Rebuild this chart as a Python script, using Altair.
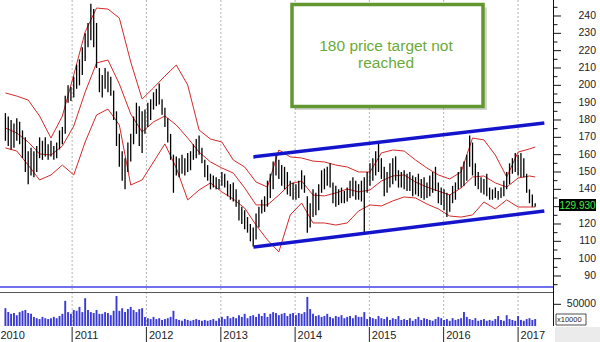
import altair as alt
import pandas as pd

# ---------------- data ----------------
bar_high = [184, 182, 180, 178, 181, 179, 174, 170, 162, 164,
            162, 165, 170, 168, 170, 166, 168, 165, 167, 174,
            176, 194, 200, 199, 205, 212, 215, 222, 230, 236,
            247, 244, 236, 210, 206, 210, 208, 205, 197, 185,
            172, 162, 158, 167, 172, 182, 190, 188, 185, 186,
            190, 192, 196, 198, 201, 192, 187, 181, 172, 160,
            159, 158, 160, 158, 161, 162, 166, 169, 171, 164,
            157, 154, 149, 148, 147, 146, 150, 149, 145, 143,
            144, 140, 134, 130, 128, 124, 120, 118, 126, 130,
            134, 136, 145, 149, 156, 161, 157, 154, 153, 150,
            145, 144, 143, 145, 151, 148, 136, 132, 140, 138,
            143, 151, 152, 153, 155, 144, 142, 140, 141, 139,
            141, 145, 147, 145, 143, 145, 147, 150, 155, 158,
            162, 167, 158, 153, 150, 155, 158, 159, 151, 150,
            151, 149, 150, 148, 147, 149, 146, 147, 144, 148,
            150, 153, 144, 141, 140, 138, 137, 142, 144, 150,
            153, 156, 160, 171, 167, 155, 150, 147, 146, 149,
            141, 140, 141, 139, 141, 145, 150, 155, 158, 161,
            160, 161, 158, 149, 140, 137, 132]
bar_low = [168, 165, 163, 164, 168, 166, 158, 150, 143, 148,
           147, 150, 158, 157, 159, 157, 159, 157, 158, 163,
           166, 172, 190, 191, 193, 198, 200, 206, 214, 222,
           226, 222, 210, 196, 193, 198, 196, 194, 180, 165,
           153, 145, 140, 150, 156, 166, 172, 165, 161, 172,
           176, 180, 186, 188, 189, 183, 176, 167, 157, 138,
           148, 147, 149, 148, 150, 151, 157, 158, 160, 155,
           147, 145, 140, 141, 140, 140, 142, 141, 136, 134,
           133, 130, 122, 120, 117, 115, 110, 107, 111, 118,
           126, 127, 130, 135, 140, 148, 146, 142, 140, 137,
           136, 134, 134, 135, 140, 138, 115, 118, 124, 125,
           128, 138, 140, 142, 141, 132, 130, 131, 132, 132,
           133, 135, 136, 134, 134, 133, 115, 138, 142, 145,
           148, 150, 146, 136, 138, 141, 143, 145, 141, 141,
           140, 139, 139, 136, 137, 136, 135, 134, 135, 136,
           138, 139, 132, 131, 128, 124, 127, 132, 134, 140,
           141, 142, 145, 153, 148, 142, 140, 138, 137, 136,
           134, 134, 135, 134, 135, 136, 140, 143, 149, 150,
           148, 147, 147, 138, 132, 130, 129.93]
volume = [41000, 32000, 28000, 30000, 25000, 32000, 35000, 37000, 30000, 28000,
          21000, 18000, 16000, 21000, 18000, 16000, 18000, 21000, 18000, 23000,
          28000, 58000, 32000, 28000, 37000, 35000, 44000, 32000, 64000, 37000,
          32000, 30000, 37000, 28000, 28000, 32000, 30000, 25000, 35000, 69000,
          35000, 41000, 32000, 39000, 44000, 37000, 32000, 39000, 41000, 21000,
          18000, 16000, 21000, 16000, 18000, 14000, 16000, 18000, 21000, 35000,
          16000, 14000, 12000, 16000, 14000, 12000, 14000, 16000, 14000, 12000,
          14000, 12000, 14000, 16000, 12000, 18000, 21000, 16000, 23000, 18000,
          21000, 18000, 25000, 21000, 28000, 18000, 23000, 25000, 21000, 28000,
          23000, 30000, 21000, 28000, 32000, 30000, 25000, 28000, 30000, 23000,
          28000, 30000, 25000, 30000, 28000, 32000, 67000, 39000, 28000, 23000,
          25000, 21000, 23000, 28000, 21000, 18000, 23000, 21000, 25000, 18000,
          21000, 23000, 18000, 25000, 21000, 21000, 32000, 16000, 21000, 18000,
          16000, 23000, 18000, 16000, 21000, 14000, 18000, 16000, 23000, 14000,
          16000, 14000, 18000, 12000, 16000, 21000, 14000, 18000, 16000, 14000,
          12000, 16000, 21000, 18000, 14000, 16000, 12000, 18000, 14000, 16000,
          18000, 32000, 21000, 16000, 14000, 18000, 12000, 14000, 16000, 12000,
          14000, 12000, 16000, 23000, 14000, 12000, 25000, 16000, 14000, 12000,
          23000, 14000, 12000, 16000, 18000, 14000, 16000]

band_upper = [195.6, 193.8, 191.5, 182.3, 169.6, 182.3, 206.0, 230.8, 244.6, 244.0,
              238.8, 213.5, 192.1, 198.5, 205.4, 211.7, 200.2, 174.2, 169.0, 167.3,
              156.9, 152.9, 144.2, 141.3, 162.7, 158.7, 158.1, 156.3, 155.8, 154.0,
              152.9, 150.0, 150.0, 161.0, 162.7, 162.1, 156.9, 152.3, 148.3, 146.0,
              150.0, 169.6, 168.5, 159.8, 147.1, 161.5, 163.3, 164.4]
band_mid = [175.4, 172.5, 167.3, 160.4, 159.8, 165.0, 176.5, 196.1, 212.9, 214.6,
            200.8, 183.5, 173.1, 178.9, 182.3, 177.1, 169.6, 161.5, 155.8, 152.3,
            149.4, 140.8, 131.0, 131.0, 136.7, 143.1, 144.8, 136.7, 136.2, 137.9,
            140.2, 138.5, 139.6, 144.8, 147.7, 148.3, 144.2, 141.3, 139.0, 136.7,
            140.8, 147.1, 147.7, 143.7, 141.3, 146.5, 147.7, 147.1]
band_lower = [163.9, 162.1, 154.0, 145.4, 148.3, 154.0, 148.3, 167.3, 182.9, 186.3,
              177.1, 142.5, 145.4, 155.8, 166.2, 152.3, 133.9, 139.6, 143.7, 138.5,
              134.4, 129.2, 119.4, 110.8, 103.9, 125.2, 132.1, 120.6, 120.6, 119.4,
              120.6, 127.5, 131.0, 130.4, 133.3, 135.6, 135.0, 131.5, 128.7, 124.6,
              124.0, 125.2, 132.7, 128.7, 133.9, 129.8, 129.8, 129.8]

channel_dates = ["2013-06-10T00:00:00", "2017-05-10T00:00:00"]
channel_upper = [158.7, 178.3]
channel_lower = [106.7, 127.5]

price_ticks = list(range(90, 250, 10))
price_labels = [t for t in price_ticks if t != 130]   # 130 is hidden by the last-price box
price_minor = list(range(85, 250, 10))
years = [2010, 2011, 2012, 2013, 2014, 2015, 2016, 2017]
last_price = "129.930"
note_lines = ["180 price target not", "reached"]

# ---------------- frames ----------------
dates = pd.date_range("2010-02-07", periods=len(bar_high), freq="14D")
bars = pd.DataFrame({"date": dates, "high": bar_high, "low": bar_low, "vol": volume})

band_idx = list(range(0, len(bar_high), 4)) + [len(bar_high) - 1]
band_dates = dates[band_idx]
bands = pd.concat([
    pd.DataFrame({"date": band_dates, "v": band_upper, "band": "upper"}),
    pd.DataFrame({"date": band_dates, "v": band_mid, "band": "mid"}),
    pd.DataFrame({"date": band_dates, "v": band_lower, "band": "lower"}),
])
channels = pd.concat([
    pd.DataFrame({"date": pd.to_datetime(channel_dates), "v": channel_upper, "line": "up"}),
    pd.DataFrame({"date": pd.to_datetime(channel_dates), "v": channel_lower, "line": "low"}),
])
year_df = pd.DataFrame({"date": pd.to_datetime([f"{y}-01-01" for y in years]),
                        "label": [str(y) for y in years]})
grid_df = year_df[year_df["label"] != "2010"]
ticks_df = pd.DataFrame({"p": price_ticks})
labels_df = pd.DataFrame({"p": price_labels, "label": [str(t) for t in price_labels]})
minor_df = pd.DataFrame({"p": price_minor})
one = pd.DataFrame({"a": [0]})
note_df = pd.DataFrame({"t": note_lines, "yy": [51, 68]})

FONT = "Liberation Sans"
xs = alt.Scale(domain=[pd.Timestamp("2010-02-05").isoformat(),
                       pd.Timestamp("2017-05-28").isoformat()], nice=False)
ps = alt.Scale(domain=[83.65, 249.23], range=[287, 0], nice=False, zero=False)
vs = alt.Scale(domain=[0, 78340], range=[326, 292], nice=False, zero=True)

X = lambda f="date": alt.X(f"{f}:T", scale=xs, axis=None)

# ---------------- decorations / grid ----------------
grid = alt.Chart(grid_df).mark_rule(color="#b4b4b4", strokeWidth=1, strokeDash=[2, 2]).encode(
    x=X(), y=alt.value(0), y2=alt.value(326))
yticks_x = alt.Chart(year_df).mark_rule(color="#222", strokeWidth=1).encode(
    x=X(), y=alt.value(327), y2=alt.value(342))
ylabels = alt.Chart(year_df).mark_text(align="left", baseline="alphabetic", dx=2.5,
                                       font=FONT, fontSize=11, color="#222").encode(
    x=X(), y=alt.value(338.5), text="label:N")
blue_sep = alt.Chart(one).mark_rule(color="#7070ee", strokeWidth=2).encode(
    x=alt.value(0), x2=alt.value(553), y=alt.value(287))
dark_sep = alt.Chart(one).mark_rule(color="#555", strokeWidth=1).encode(
    x=alt.value(0), x2=alt.value(553), y=alt.value(292.5))
axis_line = alt.Chart(one).mark_rule(color="#111", strokeWidth=1).encode(
    x=alt.value(553.5), y=alt.value(0), y2=alt.value(326))
corner = alt.Chart(one).mark_rect(color="#ebebeb").encode(
    x=alt.value(555), x2=alt.value(600), y=alt.value(327), y2=alt.value(342))
xbox = alt.Chart(one).mark_rect(fill="white", stroke="#222", strokeWidth=0.8).encode(
    x=alt.value(556), x2=alt.value(586), y=alt.value(314), y2=alt.value(325))
xbox_t = alt.Chart(one).mark_text(text="x10000", font=FONT, fontSize=7.5, color="#222",
                                  align="left", baseline="middle").encode(
    x=alt.value(557), y=alt.value(319.5))

# ---------------- price layers ----------------
price_bars = alt.Chart(bars).mark_rule(color="black", strokeWidth=1.3).encode(
    x=X(), y=alt.Y("low:Q", scale=ps, axis=None), y2="high:Q")
band_lines = alt.Chart(bands).mark_line(color="#d42a2a", strokeWidth=1).encode(
    x=X(), y=alt.Y("v:Q", scale=ps, axis=None), detail="band:N")
chan = alt.Chart(channels).mark_line(color="#1414cc", strokeWidth=3.5).encode(
    x=X(), y=alt.Y("v:Q", scale=ps, axis=None), detail="line:N")
major = alt.Chart(ticks_df).mark_rule(color="#111").encode(
    x=alt.value(553.5), x2=alt.value(561), y=alt.Y("p:Q", scale=ps, axis=None))
minor = alt.Chart(minor_df).mark_rule(color="#111").encode(
    x=alt.value(553.5), x2=alt.value(557.5), y=alt.Y("p:Q", scale=ps, axis=None))
plabels = alt.Chart(labels_df).mark_text(align="right", baseline="middle", font=FONT,
                                         fontSize=10.5, color="#222").encode(
    x=alt.value(596), y=alt.Y("p:Q", scale=ps, axis=None), text="label:N")

lp_box = alt.Chart(one).mark_rect(color="black").encode(
    x=alt.value(559), x2=alt.value(596), y=alt.value(199), y2=alt.value(211))
lp_text = alt.Chart(one).mark_text(text=last_price, font=FONT, fontSize=10, color="#44ee44",
                                   align="center", baseline="middle").encode(
    x=alt.value(577.5), y=alt.value(205.5))

shadow = alt.Chart(one).mark_rect(color="#888", opacity=0.35).encode(
    x=alt.value(295), x2=alt.value(487), y=alt.value(7.5), y2=alt.value(110))
note_box = alt.Chart(one).mark_rect(fill="white", stroke="#62982f", strokeWidth=3.5).encode(
    x=alt.value(292), x2=alt.value(483), y=alt.value(4.5), y2=alt.value(106.5))
note_text = alt.Chart(note_df).mark_text(font=FONT, fontSize=15.5, color="#6aaa3a",
                                         align="center", baseline="alphabetic").encode(
    x=alt.value(386), y=alt.Y("yy:Q", scale=None, axis=None), text="t:N")

price_layer = alt.layer(grid, blue_sep, dark_sep, band_lines, price_bars, chan,
                        major, minor, plabels, lp_box, lp_text,
                        shadow, note_box, note_text)

# ---------------- volume layers ----------------
vol_bars = alt.Chart(bars).mark_bar(color="#3a3ad2", width=1.9).encode(
    x=X(), y=alt.Y("vol:Q", scale=vs, axis=None))
vtick_df = pd.DataFrame({"v": [50000], "label": ["50000"]})
vtick = alt.Chart(vtick_df).mark_rule(color="#111").encode(
    x=alt.value(553.5), x2=alt.value(561), y=alt.Y("v:Q", scale=vs, axis=None))
vlabel = alt.Chart(vtick_df).mark_text(align="right", baseline="middle", font=FONT,
                                       fontSize=10.5, color="#222").encode(
    x=alt.value(596), y=alt.Y("v:Q", scale=vs, axis=None), text="label:N")
volume_layer = alt.layer(vol_bars, vtick, vlabel)

chart = alt.layer(price_layer, volume_layer, axis_line, yticks_x, ylabels,
                  corner, xbox, xbox_t).resolve_scale(y="independent").properties(
    width=553, height=326,
    autosize=alt.AutoSizeParams(type="none"),
    padding={"left": 0, "top": 0, "right": 47, "bottom": 16},
    background="white",
).configure_view(stroke=None)

chart.save("out.html", embed_options={"renderer": "svg", "actions": False})
